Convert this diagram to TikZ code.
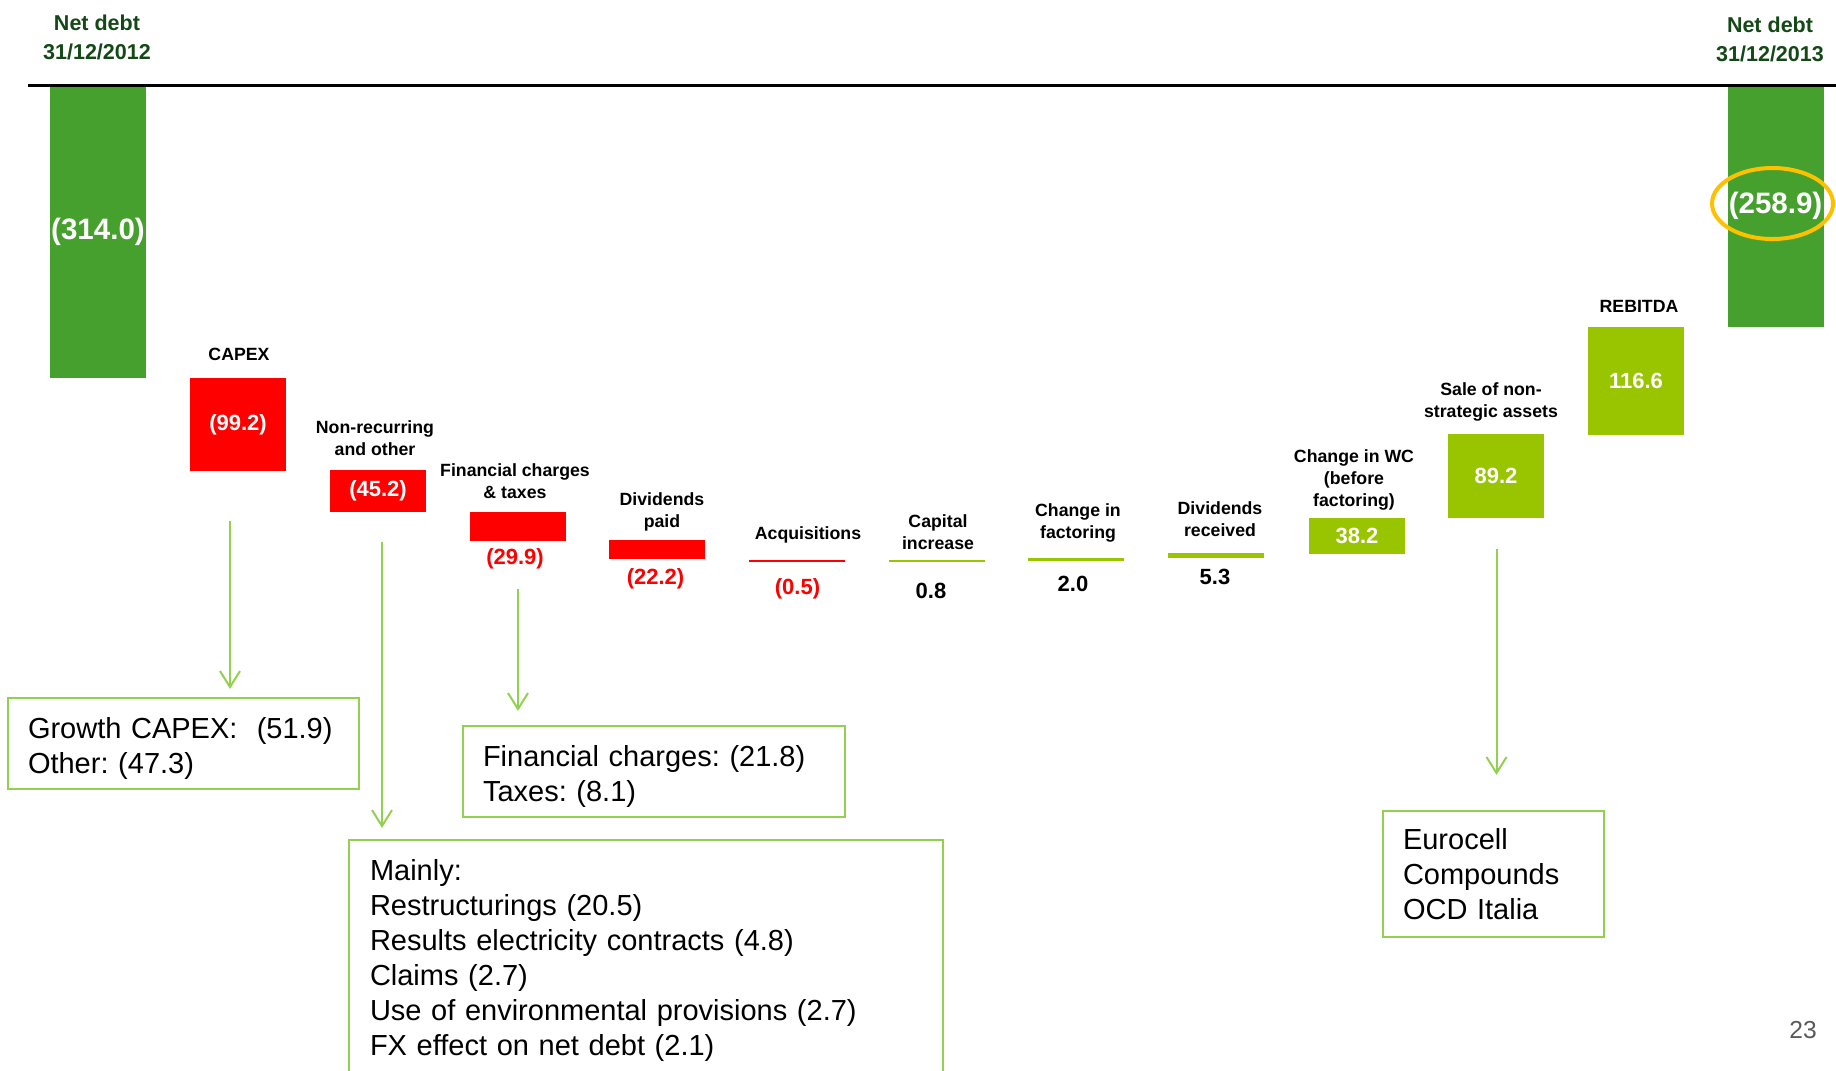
\documentclass[tikz,border=0pt]{standalone}
\usepackage{fontspec}
\setmainfont{Liberation Sans}
\usepackage{xcolor}
\usepackage{tikz}
\usetikzlibrary{arrows.meta,positioning,shapes.geometric,calc}
\frenchspacing

\definecolor{debtgreen}{RGB}{70,160,46}
\definecolor{gaingreen}{RGB}{153,196,0}
\definecolor{notegreen}{RGB}{146,208,80}
\definecolor{headgreen}{RGB}{20,72,22}
\definecolor{ringorange}{RGB}{255,192,0}
\definecolor{pagegray}{RGB}{89,89,89}

\begin{document}
\begin{tikzpicture}[
    bar/.style={rectangle, inner sep=0pt, minimum width=0.96cm, text=white, font=\fontsize{6.26}{7.5}\selectfont\bfseries},
    bigbar/.style={bar, fill=debtgreen, font=\fontsize{8.4}{10}\selectfont\bfseries},
    cat/.style={align=center, inner sep=0pt, font=\fontsize{5.04}{6.15}\selectfont\bfseries},
    val/.style={inner sep=0pt, font=\fontsize{6.26}{7.5}\selectfont\bfseries},
    heading/.style={align=center, inner sep=0pt, text=headgreen, font=\fontsize{6.12}{8.25}\selectfont\bfseries},
    note/.style={rectangle, draw=notegreen, line width=0.62pt, inner xsep=0.2cm, inner ysep=0pt, align=left, font=\fontsize{8.25}{9.96}\selectfont},
    lownote/.style={note, execute at begin node={\rule{0pt}{0.30cm}}},
    arrow/.style={-{Straight Barb[length=1.6mm,width=2mm]}, notegreen, line width=0.57pt}
]
\useasboundingbox (0,0) rectangle (18.36,-10.70);

% headings
\node[heading] (start) at (0.97,-0.37)  {Net debt\\31/12/2012};
\node[heading] (end)   at (17.70,-0.39) {Net debt\\31/12/2013};

% waterfall bars
\node[bigbar, minimum height=2.93cm] (nd12) at (0.98,-2.315) {(314.0)};
\node[bar, fill=red, minimum height=0.926cm] (capex) at (2.38,-4.243) {(99.2)};
\node[bar, fill=red, minimum height=0.42cm] (nonrec) at (3.78,-4.91) {(45.2)};
\node[bar, fill=red, minimum height=0.284cm] (fin) at (5.175,-5.265) {};
\node[bar, fill=red, minimum height=0.195cm] (divpaid) at (6.57,-5.497) {};
\node[bar, fill=red, minimum height=0.02cm] (acq) at (7.97,-5.607) {};
\node[bar, fill=gaingreen, minimum height=0.02cm] (capinc) at (9.37,-5.607) {};
\node[bar, fill=gaingreen, minimum height=0.025cm] (fact) at (10.76,-5.593) {};
\node[bar, fill=gaingreen, minimum height=0.05cm] (divrec) at (12.16,-5.558) {};
\node[bar, fill=gaingreen, minimum height=0.36cm] (wc) at (13.57,-5.36) {38.2};
\node[bar, fill=gaingreen, minimum height=0.837cm] (sale) at (14.96,-4.758) {89.2};
\node[bar, fill=gaingreen, minimum height=1.077cm] (rebitda) at (16.36,-3.808) {116.6};
\node[bigbar, minimum height=2.42cm] (nd13) at (17.755,-2.06) {(258.9)};
\node[ellipse, draw=ringorange, line width=0.04cm, minimum width=1.21cm, minimum height=0.71cm, inner sep=0pt] (ring) at (17.725,-2.035) {};

\draw[line width=0.027cm] (0.28,-0.853) -- (18.36,-0.853);

% category labels
\node[cat] (capexlbl)   at (2.39,-3.54)  {CAPEX};
\node[cat] (nonreclbl)  at (3.75,-4.38)  {Non-recurring\\and other};
\node[cat] (finlbl)     at (5.15,-4.81)  {Financial charges\\\& taxes};
\node[cat] (divpaidlbl) at (6.62,-5.12)  {Dividends\\paid};
\node[cat] (acqlbl)     at (8.08,-5.35)  {Acquisitions};
\node[cat] (capinclbl)  at (9.38,-5.32)  {Capital\\increase};
\node[cat] (factlbl)    at (10.78,-5.23) {Change in\\factoring};
\node[cat] (divreclbl)  at (12.20,-5.19) {Dividends\\received};
\node[cat] (wclbl)      at (13.54,-4.80) {Change in WC\\(before\\factoring)};
\node[cat] (salelbl)    at (14.91,-4.02) {Sale of non-\\strategic assets};
\node[cat] (rebitdalbl) at (16.39,-3.06) {REBITDA};

% values below thin bars
\node[val, text=red] (finval)     at (5.15,-5.59)  {(29.9)};
\node[val, text=red] (divpaidval) at (6.555,-5.79) {(22.2)};
\node[val, text=red] (acqval)     at (7.975,-5.89) {(0.5)};
\node[val] (capincval) at (9.31,-5.91)  {0.8};
\node[val] (factval)   at (10.73,-5.84) {2.0};
\node[val] (divrecval) at (12.15,-5.77) {5.3};

% detail boxes
\node[lownote, text width=3.11cm, minimum height=0.91cm] (capexnote) at (1.835,-7.435) {Growth CAPEX:~ (51.9)\\Other: (47.3)};
\node[lownote, text width=3.42cm, minimum height=0.91cm] (finnote) at (6.54,-7.715) {Financial charges: (21.8)\\Taxes: (8.1)};
\node[lownote, draw=none, text width=5.52cm, minimum height=2.29cm] (nonrecnote) at (6.46,-9.555) {Mainly:\\Restructurings (20.5)\\Results electricity contracts (4.8)\\Claims (2.7)\\Use of environmental provisions (2.7)\\FX effect on net debt (2.1)};
\draw[notegreen, line width=0.62pt] (nonrecnote.south west) |- (nonrecnote.north) -| (nonrecnote.south east);
\node[note, text width=1.81cm, minimum height=1.26cm] (salenote) at (14.935,-8.74) {Eurocell\\Compounds\\OCD Italia};

% arrows to the boxes
\coordinate (capexout) at (2.30,-5.21);
\coordinate (nonrecout) at (3.82,-5.42);
\coordinate (finout) at (5.18,-5.89);
\coordinate (saleout) at (14.965,-5.49);
\draw[arrow, shorten >=0.08cm] (capexout) -- (capexout |- capexnote.north);
\draw[arrow, shorten >=0.12cm] (nonrecout) -- (nonrecout |- nonrecnote.north);
\draw[arrow, shorten >=0.14cm] (finout) -- (finout |- finnote.north);
\draw[arrow, shorten >=0.35cm] (saleout) -- (saleout |- salenote.north);

\node[inner sep=0pt, text=pagegray, font=\fontsize{7}{8}\selectfont] (pagenum) at (18.03,-10.30) {23};
\end{tikzpicture}
\end{document}
